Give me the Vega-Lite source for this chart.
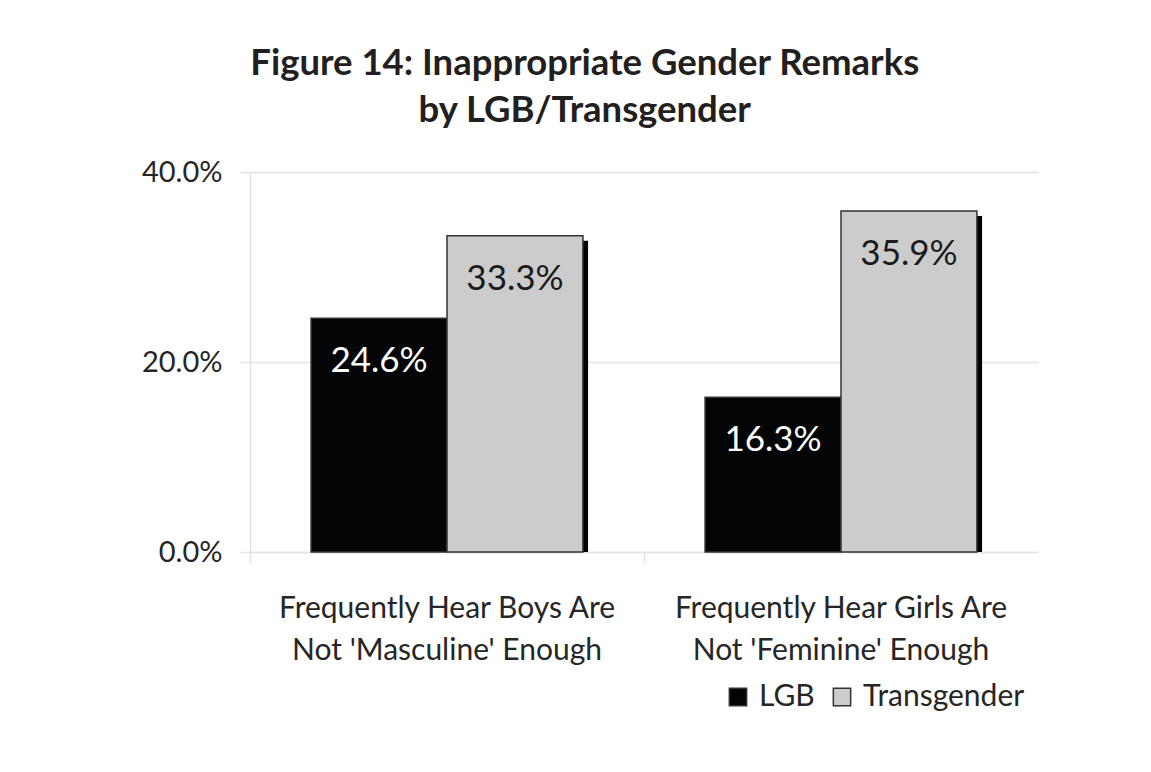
{
  "$schema": "https://vega.github.io/schema/vega-lite/v6.json",
  "width": 788,
  "height": 380,
  "autosize": "none",
  "padding": {"left": 250, "top": 172, "right": 113, "bottom": 220},
  "background": "white",
  "config": {"view": {"stroke": null}},
  "title": {
    "text": ["Figure 14: Inappropriate Gender Remarks", "by LGB/Transgender"],
    "font": "Lato",
    "fontSize": 36.5,
    "fontWeight": "bold",
    "color": "#231f20",
    "lineHeight": 47,
    "anchor": "middle",
    "frame": "bounds",
    "offset": 29,
    "dx": -5
  },
  "data": {
    "values": [
      {"category": "Frequently Hear Boys Are Not 'Masculine' Enough", "group": "LGB", "value": 0.246},
      {"category": "Frequently Hear Boys Are Not 'Masculine' Enough", "group": "Transgender", "value": 0.333},
      {"category": "Frequently Hear Girls Are Not 'Feminine' Enough", "group": "LGB", "value": 0.163},
      {"category": "Frequently Hear Girls Are Not 'Feminine' Enough", "group": "Transgender", "value": 0.359}
    ]
  },
  "encoding": {
    "x": {
      "field": "category",
      "type": "nominal",
      "sort": null,
      "scale": {"paddingInner": 0.31, "paddingOuter": 0.155},
      "axis": {
        "title": null,
        "labelAngle": 0,
        "labelFont": "Lato",
        "labelFontSize": 30,
        "labelColor": "#262626",
        "labelLineHeight": 42,
        "labelPadding": 30,
        "labelLimit": 0,
        "labelExpr": "[slice(datum.value, 0, indexof(datum.value, ' Not')), slice(datum.value, indexof(datum.value, 'Not'))]",
        "bandPosition": -0.2243,
        "tickSize": 11,
        "tickColor": "#e3e3e3",
        "tickWidth": 1.5,
        "domainColor": "#e3e3e3",
        "domainWidth": 1.5,
        "grid": false
      }
    },
    "y": {
      "field": "value",
      "type": "quantitative",
      "scale": {"domain": [0, 0.4], "nice": false},
      "axis": {
        "title": null,
        "values": [0, 0.2, 0.4],
        "format": ".1%",
        "labelFont": "Lato",
        "labelFontSize": 29,
        "labelColor": "#262626",
        "labelPadding": 18,
        "tickSize": 10,
        "tickColor": "#e3e3e3",
        "tickWidth": 1.5,
        "domainColor": "#e3e3e3",
        "domainWidth": 1.5,
        "gridColor": "#e3e3e3",
        "gridWidth": 1.5
      }
    }
  },
  "resolve": {"scale": {"xOffset": "independent"}},
  "layer": [
    {
      "mark": {"type": "bar", "color": "#000000", "yOffset": 5, "clip": true},
      "encoding": {
        "xOffset": {"field": "group", "type": "nominal", "sort": ["LGB", "Transgender"], "scale": {"range": [5, 277], "paddingInner": 0, "paddingOuter": 0}}
      }
    },
    {
      "encoding": {
        "xOffset": {"field": "group", "type": "nominal", "sort": ["LGB", "Transgender"], "scale": {"paddingInner": 0, "paddingOuter": 0}}
      },
      "layer": [
        {
          "mark": {"type": "bar", "stroke": "#333333", "strokeWidth": 1.5},
          "encoding": {
            "fill": {
              "field": "group",
              "type": "nominal",
              "scale": {"domain": ["LGB", "Transgender"], "range": ["#030405", "#cccccc"]},
              "legend": {
                "title": null,
                "orient": "none",
                "direction": "horizontal",
                "legendX": 473,
                "legendY": 510,
                "symbolType": "square",
                "symbolSize": 300,
                "symbolStrokeColor": "#333333",
                "symbolStrokeWidth": 1.5,
                "labelFont": "Lato",
                "labelFontSize": 30,
                "labelColor": "#262626",
                "labelLimit": 0,
                "labelOffset": 6,
                "columnPadding": 12
              }
            }
          }
        },
        {
          "mark": {"type": "text", "font": "Lato", "fontSize": 35, "baseline": "alphabetic", "dy": 54},
          "encoding": {
            "text": {"field": "value", "type": "quantitative", "format": ".1%"},
            "color": {"condition": {"test": "datum.group == 'LGB'", "value": "#ffffff"}, "value": "#1a1a1a"}
          }
        }
      ]
    }
  ]
}
